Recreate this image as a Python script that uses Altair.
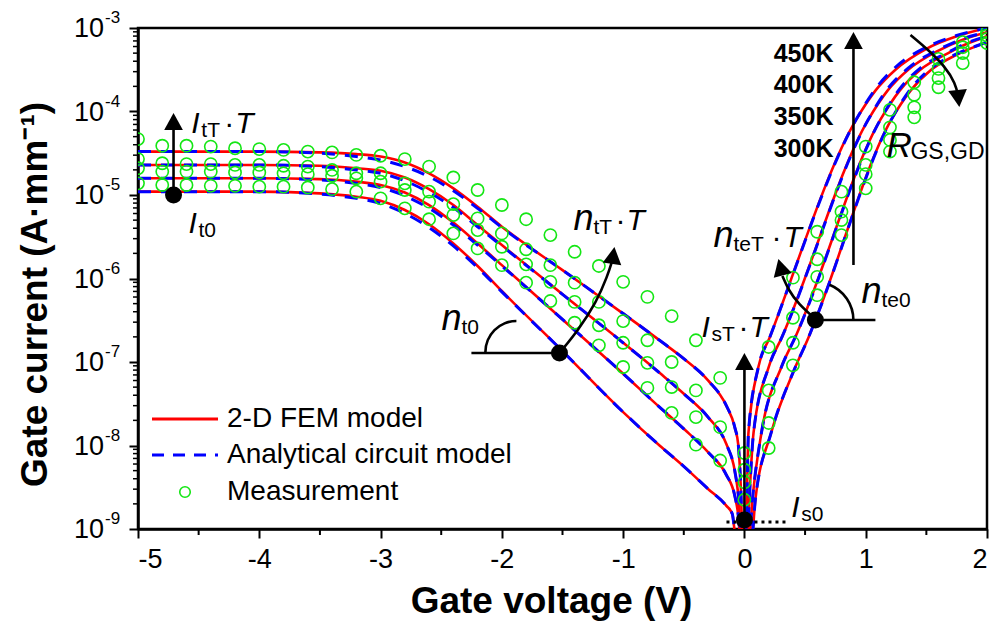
import altair as alt
import pandas as pd

FONT = "Liberation Sans"
RED = "#ff0000"
BLUE = "#0000ff"
GREEN = "#14e614"

# ---------------- model curves: gate voltage (V) / log10 gate current (A/mm) ----------------
fem_v_450 = [-5.0, -4.0, -3.5, -3.2, -3.0, -2.8, -2.6, -2.4, -2.2, -2.0, -1.5, -1.0, -0.7, -0.5, -0.3,
             -0.15, -0.08, -0.05, -0.03, -0.015, 0.012, 0.02, 0.033, 0.115, 0.21, 0.92, 1.08, 1.245, 1.5, 1.75, 2.0]
fem_log_450 = [-4.48, -4.48, -4.49, -4.51, -4.54, -4.61, -4.74, -4.92, -5.14, -5.38, -5.90, -6.42, -6.74, -6.96, -7.22,
               -7.52, -7.78, -8.00, -8.50, -9.10, -9.10, -8.65, -7.85, -7.06, -6.70, -4.10, -3.75, -3.50, -3.25, -3.10, -3.00]

fem_v_400 = [-5.0, -4.0, -3.5, -3.2, -3.0, -2.8, -2.6, -2.4, -2.2, -2.0, -1.5, -1.0, -0.7, -0.5, -0.3,
             -0.15, -0.08, -0.05, -0.025, 0.025, 0.04, 0.075, 0.2, 0.31, 1.02, 1.18, 1.35, 1.6, 1.8, 2.0]
fem_log_400 = [-4.64, -4.64, -4.65, -4.68, -4.71, -4.79, -4.93, -5.12, -5.36, -5.60, -6.19, -6.77, -7.13, -7.38, -7.66,
               -7.98, -8.30, -8.60, -9.10, -9.10, -8.65, -7.85, -7.06, -6.70, -4.10, -3.75, -3.50, -3.27, -3.14, -3.05]

fem_v_350 = [-5.0, -4.0, -3.5, -3.2, -3.0, -2.8, -2.6, -2.4, -2.2, -2.0, -1.5, -1.0, -0.7, -0.5, -0.3,
             -0.15, -0.08, -0.05, -0.035, 0.04, 0.066, 0.14, 0.305, 0.42, 1.12, 1.28, 1.45, 1.68, 1.85, 2.0]
fem_log_350 = [-4.80, -4.80, -4.81, -4.84, -4.88, -4.97, -5.12, -5.33, -5.58, -5.84, -6.49, -7.14, -7.54, -7.80, -8.08,
               -8.35, -8.60, -8.85, -9.10, -9.10, -8.65, -7.85, -7.06, -6.70, -4.10, -3.75, -3.50, -3.30, -3.18, -3.10]

fem_v_300 = [-5.0, -4.0, -3.5, -3.2, -3.0, -2.8, -2.6, -2.4, -2.2, -2.0, -1.5, -1.0, -0.7, -0.5, -0.3,
             -0.15, -0.1, -0.07, 0.06, 0.09, 0.22, 0.42, 0.53, 0.585, 1.21, 1.37, 1.54, 1.75, 2.0]
fem_log_300 = [-4.96, -4.96, -4.98, -5.02, -5.07, -5.18, -5.35, -5.58, -5.85, -6.15, -6.87, -7.60, -8.00, -8.25, -8.52,
               -8.72, -8.82, -9.10, -9.10, -8.65, -7.85, -7.06, -6.70, -6.50, -4.10, -3.75, -3.50, -3.32, -3.17]

# analytical circuit model (same voltage points as the FEM curves)
ana_log_450 = [-4.48, -4.48, -4.50, -4.54, -4.58, -4.66, -4.78, -4.95, -5.16, -5.39, -5.90, -6.42, -6.74, -6.96, -7.22,
               -7.52, -7.78, -8.00, -8.50, -9.10, -9.10, -8.65, -7.85, -7.06, -6.70, -4.10, -3.73, -3.47, -3.23, -3.09, -3.00]
ana_log_400 = [-4.64, -4.64, -4.66, -4.70, -4.74, -4.83, -4.97, -5.15, -5.38, -5.61, -6.19, -6.77, -7.13, -7.38, -7.66,
               -7.98, -8.30, -8.60, -9.10, -9.10, -8.65, -7.85, -7.06, -6.70, -4.10, -3.73, -3.48, -3.26, -3.13, -3.05]
ana_log_350 = [-4.80, -4.80, -4.82, -4.86, -4.91, -5.01, -5.16, -5.36, -5.60, -5.85, -6.49, -7.14, -7.54, -7.80, -8.08,
               -8.35, -8.60, -8.85, -9.10, -9.10, -8.65, -7.85, -7.06, -6.70, -4.10, -3.73, -3.48, -3.29, -3.17, -3.10]
ana_log_300 = [-4.96, -4.96, -4.99, -5.04, -5.10, -5.22, -5.39, -5.61, -5.87, -6.16, -6.87, -7.60, -8.00, -8.25, -8.52,
               -8.72, -8.82, -9.10, -9.10, -8.65, -7.85, -7.06, -6.70, -6.50, -4.10, -3.73, -3.48, -3.31, -3.17]

# ---------------- measurements ----------------
meas_v = [-5.0, -4.8, -4.6, -4.4, -4.2, -4.0, -3.8, -3.6, -3.4, -3.2, -3.0, -2.8, -2.6, -2.4, -2.2, -2.0, -1.8, -1.6,
          -1.4, -1.2, -1.0, -0.8, -0.6, -0.4, -0.2, 0.0, 0.2, 0.4, 0.6, 0.8, 1.0, 1.2, 1.4, 1.6, 1.8, 2.0]
meas_log_450 = [-4.33, -4.41, -4.41, -4.42, -4.44, -4.45, -4.46, -4.48, -4.49, -4.52, -4.53, -4.57, -4.66, -4.79,
                -4.94, -5.12, -5.29, -5.48, -5.68, -5.85, -6.04, -6.22, -6.45, -6.74, -7.19, -8.09, -6.82, -5.99,
                -5.44, -4.96, -4.42, -3.98, -3.65, -3.37, -3.17, -3.05]
meas_log_400 = [-4.57, -4.62, -4.63, -4.63, -4.64, -4.64, -4.65, -4.66, -4.70, -4.74, -4.74, -4.86, -4.96, -5.11,
                -5.28, -5.46, -5.65, -5.84, -6.05, -6.28, -6.51, -6.74, -7.00, -7.34, -7.78, -8.29, -7.34, -6.47,
                -5.77, -5.20, -4.64, -4.19, -3.80, -3.49, -3.23, -3.09]
meas_log_350 = [-4.68, -4.72, -4.72, -4.72, -4.73, -4.73, -4.74, -4.75, -4.77, -4.80, -4.84, -4.94, -5.08, -5.24,
                -5.42, -5.62, -5.83, -6.04, -6.28, -6.56, -6.77, -7.01, -7.30, -7.66, -8.18, -8.44, -7.73, -6.77,
                -5.98, -5.30, -4.75, -4.34, -3.95, -3.60, -3.30, -3.13]
meas_log_300 = [-4.86, -4.88, -4.88, -4.89, -4.89, -4.90, -4.90, -4.91, -4.93, -4.96, -5.04, -5.16, -5.29, -5.46,
                -5.64, -5.84, -6.05, -6.27, -6.53, -6.80, -7.06, -7.31, -7.61, -7.99, None, -8.65, -8.03, -7.04,
                -6.20, -5.48, -4.92, -4.48, -4.07, -3.71, -3.42, -3.18]

# ---------------- axes ----------------
x_ticks = [-5, -4, -3, -2, -1, 0, 1, 2]
x_minor = [-4.5, -3.5, -2.5, -1.5, -0.5, 0.5, 1.5]
y_tick_exp = [-9, -8, -7, -6, -5, -4, -3]
y_minor_mult = [2, 3, 4, 5, 6, 7, 8, 9]

# ---------------- annotations (voltage, log10 current) ----------------
temp_labels = ["450K", "400K", "350K", "300K"]
temp_label_log = [-3.407, -3.778, -4.162, -4.545]
temp_label_v = 0.734

dots_v = [-4.707, -1.525, 0.0, 0.585]
dots_log = [-5.0, -6.892, -8.892, -6.497]

# arrow shafts: id, voltage, log10 current (in drawing order)
shaft_id = ["It", "It", "Is", "Is", "T", "T",
            "nt", "nt", "nt", "nt", "nt",
            "nte", "nte", "nte", "nte",
            "R", "R", "R", "R", "R",
            "nt0", "nt0", "nte0", "nte0"]
shaft_v = [-4.707, -4.707, 0.0, 0.0, 0.899, 0.899,
           -1.525, -1.369, -1.220, -1.129, -1.088,
           0.585, 0.445, 0.363, 0.313,
           1.369, 1.517, 1.657, 1.739, 1.764,
           -2.251, -1.525, 0.585, 1.080]
shaft_log = [-5.0, -4.12, -8.892, -6.99, -5.838, -3.15,
             -6.892, -6.617, -6.281, -5.970, -5.778,
             -6.485, -6.305, -6.138, -5.970,
             -3.084, -3.263, -3.467, -3.659, -3.826,
             -6.892, -6.892, -6.497, -6.497]

head_v = [-4.707, 0.0, 0.899, -1.072, 0.280, 1.772]
head_log = [-4.018, -6.892, -3.048, -5.623, -5.766, -3.946]
head_angle = [0, 0, 0, 8, 345, 174]

dotted_v = [-0.148, 0.363]
dotted_log = [-8.916, -8.916]

# angle arcs: centre voltage, centre log10 current, radius (px), start/end angle (rad)
arc_v = [-1.880, 0.585]
arc_log = [-6.880, -6.497]
arc_r = [31, 38]
arc_t0 = [4.712, 0.38]
arc_t1 = [6.283, 1.571]

# ---------------- scales & axes ----------------
xs = alt.Scale(domain=[-5, 2], nice=False, zero=False)
ys = alt.Scale(type="log", domain=[1e-9, 1e-3], nice=False)

x_axis = alt.Axis(values=x_ticks, labelExpr="'' + datum.value", labelFont=FONT, labelFontSize=27,
                  labelColor="black", labelPadding=8, tickSize=9, tickWidth=2, tickColor="black",
                  domainColor="black", domainWidth=2.5, grid=False, title="Gate voltage (V)",
                  titleFont=FONT, titleFontSize=37, titleFontWeight="bold", titleColor="black",
                  titleX=413, titleY=72, titleAlign="center", titleBaseline="middle")
y_axis = alt.Axis(values=[10.0 ** e for e in y_tick_exp], labels=False, tickSize=9, tickWidth=2,
                  tickColor="black", domainColor="black", domainWidth=2.5, grid=False,
                  title="Gate current (A·mm⁻¹)", titleFont=FONT, titleFontSize=37,
                  titleFontWeight="bold", titleColor="black", titleX=-103, titleY=266,
                  titleAngle=-90, titleAlign="center", titleBaseline="middle")


def X(field="V"):
    return alt.X(f"{field}:Q", scale=xs, axis=x_axis)


def Y(field="I"):
    return alt.Y(f"{field}:Q", scale=ys, axis=y_axis)


def curve_frame(v_lists, log_lists, temps):
    rows = []
    for t, vs, ls in zip(temps, v_lists, log_lists):
        for k, (v, lg) in enumerate(zip(vs, ls)):
            rows.append({"T": t, "k": k, "V": v, "I": 10 ** lg})
    return pd.DataFrame(rows)


temps = ["300K", "350K", "400K", "450K"]
fem_df = curve_frame([fem_v_300, fem_v_350, fem_v_400, fem_v_450],
                     [fem_log_300, fem_log_350, fem_log_400, fem_log_450], temps)
ana_df = curve_frame([fem_v_300, fem_v_350, fem_v_400, fem_v_450],
                     [ana_log_300, ana_log_350, ana_log_400, ana_log_450], temps)

meas_rows = []
for t, ls in zip(temps, [meas_log_300, meas_log_350, meas_log_400, meas_log_450]):
    for v, lg in zip(meas_v, ls):
        if lg is not None:
            meas_rows.append({"T": t, "V": v, "I": 10 ** lg})
meas_df = pd.DataFrame(meas_rows)

fem = alt.Chart(fem_df).mark_line(color=RED, strokeWidth=2.6, clip=True, interpolate="monotone").encode(
    x=X(), y=Y(), detail="T:N", order="k:Q")

ana = alt.Chart(ana_df).mark_line(color=BLUE, strokeWidth=3, strokeDash=[13, 10], clip=True,
                                  interpolate="monotone").encode(
    x=X(), y=Y(), detail="T:N", order="k:Q")

meas = alt.Chart(meas_df).mark_point(shape="circle", filled=False, size=150, strokeWidth=1.6,
                                     color=GREEN, opacity=1, clip=True).encode(x=X(), y=Y())

# minor ticks
ymin_df = pd.DataFrame({"I": [m * 10.0 ** e for e in y_tick_exp[:-1] for m in y_minor_mult]})
y_minor_ticks = alt.Chart(ymin_df).mark_rule(color="black", strokeWidth=1.5).encode(
    y=Y(), x=alt.value(0), x2=alt.value(-5))
xmin_df = pd.DataFrame({"V": x_minor})
x_minor_ticks = alt.Chart(xmin_df).mark_rule(color="black", strokeWidth=2).encode(
    x=X(), y=alt.value(501), y2=alt.value(507))

# y tick labels: "10" with raised exponent
ylab_df = pd.DataFrame({"I": [10.0 ** e for e in y_tick_exp],
                        "base": ["10"] * len(y_tick_exp),
                        "exp": [str(e) for e in y_tick_exp]})
y_base = alt.Chart(ylab_df).mark_text(font=FONT, fontSize=27, align="right", baseline="middle",
                                      dy=1, color="black").encode(
    y=Y(), x=alt.value(-34), text="base:N")
y_exp = alt.Chart(ylab_df).mark_text(font=FONT, fontSize=17, align="left", baseline="middle",
                                     dy=-10, color="black").encode(
    y=Y(), x=alt.value(-33), text="exp:N")

# annotations
shaft_df = pd.DataFrame({"id": shaft_id, "k": list(range(len(shaft_id))), "V": shaft_v,
                         "I": [10 ** v for v in shaft_log]})
shafts = alt.Chart(shaft_df).mark_line(color="black", strokeWidth=2.6, interpolate="basis").encode(
    x=X(), y=Y(), detail="id:N", order="k:Q")

dotted_df = pd.DataFrame({"V": dotted_v, "I": [10 ** v for v in dotted_log]})
dotted = alt.Chart(dotted_df).mark_line(color="black", strokeWidth=3, strokeDash=[3, 4]).encode(
    x=X(), y=Y())

ARROW = "M0,0L0.55,1L-0.55,1Z"
head_df = pd.DataFrame({"V": head_v, "I": [10 ** v for v in head_log], "ang": head_angle})
heads = alt.Chart(head_df).mark_point(shape=ARROW, filled=True, size=1156, color="black",
                                      opacity=1, strokeWidth=0).encode(
    x=X(), y=Y(), angle=alt.Angle("ang:Q", scale=None))

dot_df = pd.DataFrame({"V": dots_v, "I": [10 ** v for v in dots_log]})
dots = alt.Chart(dot_df).mark_point(shape="circle", filled=True, size=289, color="black",
                                    opacity=1).encode(x=X(), y=Y())

arcs = []
for v, lg, r, t0, t1 in zip(arc_v, arc_log, arc_r, arc_t0, arc_t1):
    src = pd.DataFrame({"V": [v], "I": [10 ** lg]})
    arcs.append(alt.Chart(src).mark_arc(theta=t0, theta2=t1, innerRadius=r - 1.3,
                                        outerRadius=r + 1.3, color="black").encode(x=X(), y=Y()))

temp_df = pd.DataFrame({"V": [temp_label_v] * 4, "I": [10 ** v for v in temp_label_log],
                        "t": temp_labels})
temp_text = alt.Chart(temp_df).mark_text(font=FONT, fontSize=25, fontWeight="bold", align="right",
                                         baseline="alphabetic", color="black").encode(
    x=X(), y=Y(), text="t:N")

MS = 30   # italic I, T
NS = 36   # italic n
SS = 21   # subscripts
IT = "italic"
NO = "normal"
label_specs = [
    (-4.560, -4.257, [("I", 0, 0, MS, IT), ("tT", 10, 4, SS, NO), ("·", 33, 0, MS, NO), ("T", 44, 0, MS, IT)]),
    (-4.584, -5.455, [("I", 0, 0, MS, IT), ("t0", 10, 4, SS, NO)]),
    (-2.498, -6.617, [("n", 0, 0, NS, IT), ("t0", 20, 4, SS, NO)]),
    (-1.410, -5.419, [("n", 0, 0, NS, IT), ("tT", 20, 4, SS, NO), ("·", 42, 0, MS, NO), ("T", 53, 0, MS, IT)]),
    (-0.354, -6.700, [("I", 0, 0, MS, IT), ("sT", 10, 4, SS, NO), ("·", 37, 0, MS, NO), ("T", 48, 0, MS, IT)]),
    (0.387, -8.856, [("I", 0, 0, MS, IT), ("s0", 10, 4, SS, NO)]),
    (-0.256, -5.623, [("n", 0, 0, NS, IT), ("teT", 20, 4, SS, NO), ("·", 58, 0, MS, NO), ("T", 70, 0, MS, IT)]),
    (0.965, -6.293, [("n", 0, 0, NS, IT), ("te0", 20, 4, SS, NO)]),
    (1.171, -4.545, [("R", 0, 0, 35, IT), ("GS,GD", 24, 2, 23, NO)]),
]
labels = []
for v, lg, pieces in label_specs:
    src = pd.DataFrame({"V": [v], "I": [10 ** lg]})
    for text, dx, dy, size, style in pieces:
        labels.append(alt.Chart(src).mark_text(text=text, dx=dx, dy=dy, fontSize=size, fontStyle=style,
                                               font=FONT, align="left", baseline="alphabetic",
                                               color="black").encode(x=X(), y=Y()))

# legend
one = pd.DataFrame({"a": [0]})
legend_names = ["2-D FEM model", "Analytical circuit model", "Measurement"]
leg_red = alt.Chart(one).mark_rule(color=RED, strokeWidth=3).encode(
    x=alt.value(14), x2=alt.value(80), y=alt.value(391))
leg_blue = alt.Chart(one).mark_rule(color=BLUE, strokeWidth=3, strokeDash=[12, 9]).encode(
    x=alt.value(14), x2=alt.value(80), y=alt.value(427))
leg_pt = alt.Chart(one).mark_point(shape="circle", filled=False, size=110, strokeWidth=1.6,
                                   color=GREEN, opacity=1).encode(x=alt.value(47), y=alt.value(464))
leg_text = [
    alt.Chart(one).mark_text(text=name, font=FONT, fontSize=28, align="left", baseline="middle",
                             color="black").encode(x=alt.value(89), y=alt.value(yy))
    for name, yy in zip(legend_names, [391, 427, 464])
]

chart = alt.layer(
    fem, ana, meas, y_minor_ticks, x_minor_ticks, y_base, y_exp,
    shafts, dotted, *arcs, heads, dots, temp_text, *labels,
    leg_red, leg_blue, leg_pt, *leg_text,
).properties(
    width=849, height=501,
    padding={"left": 138, "top": 28, "right": 5, "bottom": 93},
    autosize=alt.AutoSizeParams(type="none"),
).configure(font=FONT, background="white").configure_view(stroke="black", strokeWidth=2.5)

chart.save("out.html", embed_options={"renderer": "svg", "actions": False})
